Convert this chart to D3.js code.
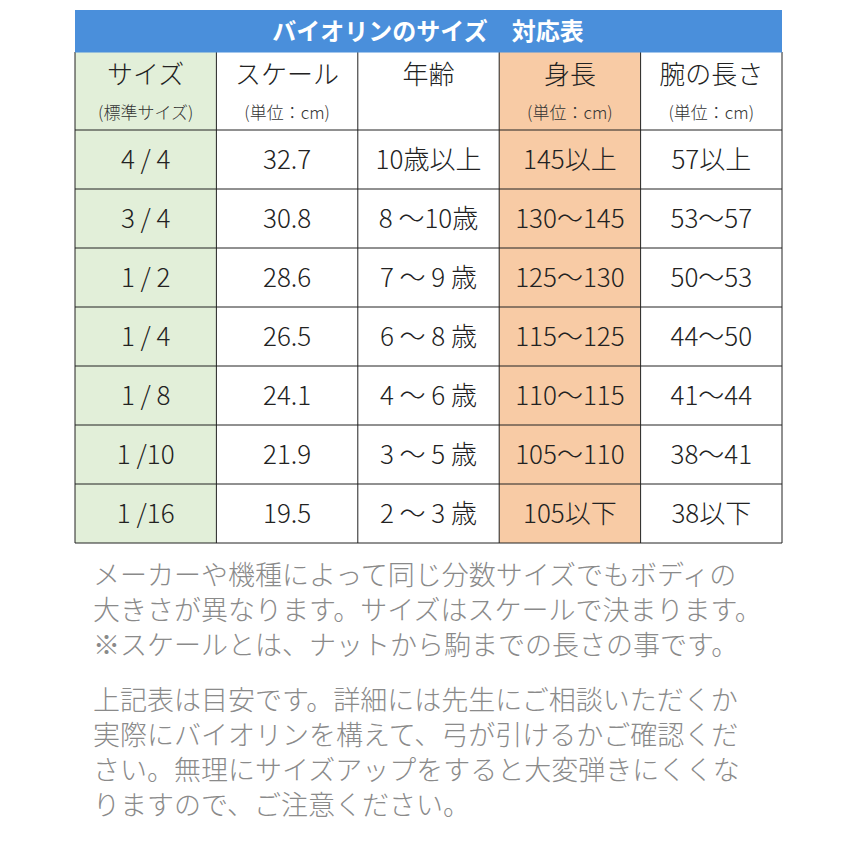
<!DOCTYPE html>
<html><head><meta charset="utf-8">
<script src="https://cdn.jsdelivr.net/npm/d3@7"></script>
<style>body{margin:0;background:#fff}</style></head>
<body><svg id="c" width="850" height="850"></svg>
<script>
const title = "バイオリンのサイズ　対応表";
const headers = ["サイズ","スケール","年齢","身長","腕の長さ"];
const subHeaders = ["(標準サイズ)","(単位：cm)","","(単位：cm)","(単位：cm)"];
const sizes = ["4 / 4","3 / 4","1 / 2","1 / 4","1 / 8","1 /10","1 /16"];
const scales = ["32.7","30.8","28.6","26.5","24.1","21.9","19.5"];
const ages = ["10歳以上","8 ～10歳","7 ～ 9 歳","6 ～ 8 歳","4 ～ 6 歳","3 ～ 5 歳","2 ～ 3 歳"];
const heights = ["145以上","130～145","125～130","115～125","110～115","105～110","105以下"];
const arms = ["57以上","53～57","50～53","44～50","41～44","38～41","38以下"];
const notes1 = ["メーカーや機種によって同じ分数サイズでもボディの","大きさが異なります。サイズはスケールで決まります。","※スケールとは、ナットから駒までの長さの事です。"];
const notes2 = ["上記表は目安です。詳細には先生にご相談いただくか","実際にバイオリンを構えて、弓が引けるかご確認くだ","さい。無理にサイズアップをすると大変弾きにくくな","りますので、ご注意ください。"];

const svg = d3.select("#c");
const font = "'Noto Sans CJK JP', sans-serif";
const cols = d3.scaleBand().domain(d3.range(5)).range([75,782]);
const rows = d3.scaleBand().domain(d3.range(7)).range([130,543]);
const colFill = ["#e2efd9","#fff","#fff","#f8cba5","#fff"];

svg.append("rect").attr("x",75).attr("y",10).attr("width",707).attr("height",42).attr("fill","#4a8fdb");
svg.append("text").attr("x",428).attr("y",31).attr("dy","0.36em").attr("text-anchor","middle")
  .attr("fill","#fff").attr("font-weight","bold").attr("font-size",24).attr("font-family",font).text(title);

svg.selectAll(".bg").data(d3.range(5)).join("rect")
  .attr("x",i=>cols(i)).attr("y",52).attr("width",cols.bandwidth()).attr("height",491)
  .attr("fill",i=>colFill[i]);

svg.selectAll(".h").data(headers).join("text")
  .attr("x",(d,i)=>cols(i)+cols.bandwidth()/2).attr("y",75).attr("dy","0.36em")
  .attr("text-anchor","middle").attr("font-size",26).attr("font-weight",300).attr("font-family",font).attr("fill","#222").text(d=>d);
svg.selectAll(".sh").data(subHeaders).join("text")
  .attr("x",(d,i)=>cols(i)+cols.bandwidth()/2).attr("y",113).attr("dy","0.36em")
  .attr("text-anchor","middle").attr("font-size",17).attr("font-weight",300).attr("font-family",font).attr("fill","#333").text(d=>d);

const data = [sizes,scales,ages,heights,arms];
data.forEach((arr,ci)=>{
  svg.append("g").selectAll("text").data(arr).join("text")
    .attr("x",cols(ci)+cols.bandwidth()/2).attr("y",(d,ri)=>rows(ri)+rows.bandwidth()/2).attr("dy","0.36em")
    .attr("text-anchor","middle").attr("font-size",26).attr("font-weight",300).attr("font-family",font).attr("fill","#222").text(d=>d);
});

const g = svg.append("g").attr("stroke","#222").attr("stroke-width",1);
[130,...d3.range(7).map(i=>rows(i)+rows.bandwidth())].forEach(y=>g.append("line").attr("x1",75).attr("x2",782).attr("y1",y).attr("y2",y));
[75,...d3.range(5).map(i=>cols(i)+cols.bandwidth())].forEach(x=>g.append("line").attr("x1",x).attr("x2",x).attr("y1",52).attr("y2",543));
g.append("line").attr("x1",75).attr("x2",782).attr("y1",52).attr("y2",52).attr("stroke","#4a8fdb");

const nt = svg.append("g").attr("font-family",font).attr("font-size",27).attr("font-weight",300).attr("fill","#8a8a8a");
notes1.forEach((t,i)=>nt.append("text").attr("x",93).attr("y",575+i*35).attr("dy","0.36em").text(t));
notes2.forEach((t,i)=>nt.append("text").attr("x",93).attr("y",700+i*35).attr("dy","0.36em").text(t));
</script></body></html>
